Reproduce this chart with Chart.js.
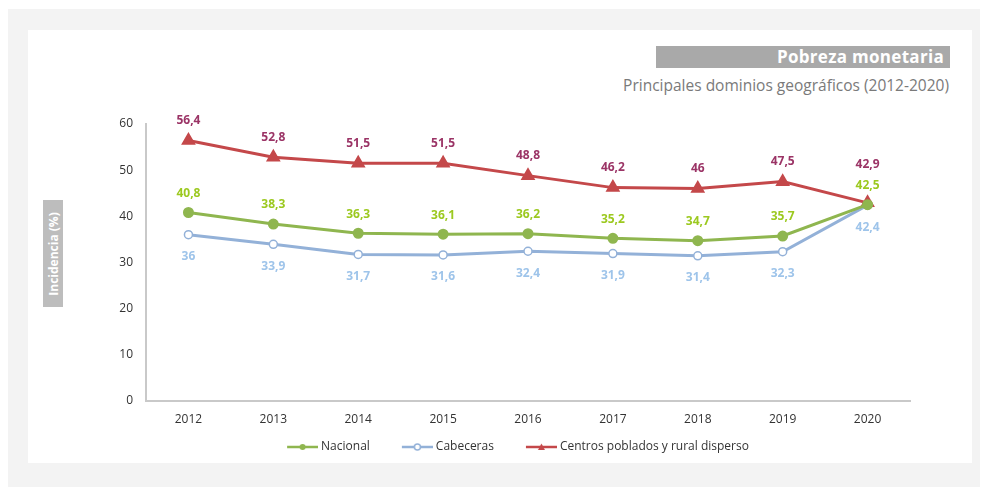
<!DOCTYPE html>
<html>
<head>
<meta charset="utf-8">
<script src="https://cdn.jsdelivr.net/npm/chart.js@4"></script>
<style>
  html, body { margin: 0; padding: 0; background: #fff; }
  body { width: 989px; height: 493px; position: relative; overflow: hidden; font-family: "Open Sans", sans-serif; }
  #frame { position: absolute; left: 8px; top: 9px; width: 972px; height: 478px; background: #f3f3f3; }
  #card { position: absolute; left: 28px; top: 30px; width: 944px; height: 433px; background: #fff; }
  #title { position: absolute; left: 656px; top: 46px; width: 294px; height: 22px; background: #a9a9a9; color: #fff;
           font-weight: bold; font-size: 17px; line-height: 22px; text-align: right; box-sizing: border-box; padding-right: 6px; letter-spacing: 0.3px; }
  #subtitle { position: absolute; right: 40px; top: 74px; font-size: 15.5px; color: #7a7a7a; white-space: nowrap; }
  #ytitle { position: absolute; left: 43px; top: 200px; width: 20px; height: 107px; background: #bdbdbd; }
  #ytitle span { position: absolute; left: 50%; top: 50%; transform: translate(-50%, -50%) rotate(-90deg);
                 color: #fff; font-size: 12px; font-weight: bold; white-space: nowrap; }
  #chart { position: absolute; left: 0; top: 0; }
</style>
</head>
<body>
<div id="frame"></div>
<div id="card"></div>
<div id="title">Pobreza monetaria</div>
<div id="subtitle">Principales dominios geográficos (2012-2020)</div>
<div id="ytitle"><span>Incidencia (%)</span></div>
<canvas id="chart" width="989" height="493"></canvas>
<script>
// datos
const years = ['2012', '2013', '2014', '2015', '2016', '2017', '2018', '2019', '2020'];
const nacional = [40.8, 38.3, 36.3, 36.1, 36.2, 35.2, 34.7, 35.7, 42.5];
const cabeceras = [36, 33.9, 31.7, 31.6, 32.4, 31.9, 31.4, 32.3, 42.4];
const rural = [56.4, 52.8, 51.5, 51.5, 48.8, 46.2, 46, 47.5, 42.9];
const yTicks = [0, 10, 20, 30, 40, 50, 60];

// marcador de leyenda: espacio + linea + punto
function legendIcon(color, style) {
    const c = document.createElement('canvas');
    c.width = 54; c.height = 10;
    const g = c.getContext('2d');
    const x0 = 23, mid = 38.5;
    g.strokeStyle = color;
    g.lineWidth = 2.5;
    g.beginPath(); g.moveTo(x0, 5); g.lineTo(54, 5); g.stroke();
    g.fillStyle = color;
    if (style === 'triangle') {
        g.beginPath(); g.moveTo(mid, 1.5); g.lineTo(mid + 3.5, 8); g.lineTo(mid - 3.5, 8); g.closePath(); g.fill();
    } else if (style === 'open') {
        g.fillStyle = '#fff'; g.lineWidth = 1.5;
        g.beginPath(); g.arc(mid, 5, 3, 0, Math.PI * 2); g.fill(); g.stroke();
    } else {
        g.beginPath(); g.arc(mid, 5, 3, 0, Math.PI * 2); g.fill();
    }
    return c;
}

// etiquetas de valores
const valueLabels = {
    id: 'valueLabels',
    afterDatasetsDraw(chart) {
        const ctx = chart.ctx;
        ctx.save();
        ctx.font = 'bold 12px "Open Sans"';
        ctx.textAlign = 'center';
        ctx.textBaseline = 'middle';
        chart.data.datasets.forEach((ds, i) => {
            const meta = chart.getDatasetMeta(i);
            meta.data.forEach((pt, j) => {
                let dy = ds.labelOffset;
                if (i === 2 && j === ds.data.length - 1) dy = -38;
                ctx.fillStyle = ds.labelColor;
                ctx.fillText(String(ds.data[j]).replace('.', ','), pt.x, pt.y + dy);
            });
        });
        ctx.restore();
    }
};

const colors = { nac: '#8fb64f', cab: '#93b1d8', rur: '#c4484a' };

new Chart(document.getElementById('chart'), {
    type: 'line',
    data: {
        labels: years,
        datasets: [
            {
                label: 'Nacional', data: nacional,
                borderColor: colors.nac, backgroundColor: colors.nac, borderWidth: 3,
                pointRadius: 4, pointBackgroundColor: colors.nac, pointBorderColor: colors.nac,
                labelColor: '#9cc920', labelOffset: -19, icon: legendIcon(colors.nac, 'circle')
            },
            {
                label: 'Cabeceras', data: cabeceras,
                borderColor: colors.cab, backgroundColor: colors.cab, borderWidth: 3,
                pointRadius: 4, pointBackgroundColor: '#fff', pointBorderColor: colors.cab, pointBorderWidth: 1.5,
                labelColor: '#9ec4ea', labelOffset: 22, icon: legendIcon(colors.cab, 'open')
            },
            {
                label: 'Centros poblados y rural disperso', data: rural,
                borderColor: colors.rur, backgroundColor: colors.rur, borderWidth: 3,
                pointStyle: 'triangle', pointRadius: 5.5, pointBackgroundColor: colors.rur, pointBorderColor: colors.rur,
                labelColor: '#9b3466', labelOffset: -20, icon: legendIcon(colors.rur, 'triangle')
            }
        ]
    },
    options: {
        responsive: false,
        animation: false,
        layout: { padding: { left: 106, right: 79, top: 124, bottom: 30 } },
        plugins: {
            legend: {
                position: 'bottom',
                labels: {
                    usePointStyle: true,
                    pointStyleWidth: 48,
                    padding: 12,
                    color: '#333',
                    font: { family: 'Open Sans', size: 12 },
                    generateLabels(chart) {
                        return chart.data.datasets.map((ds, i) => ({
                            text: ds.label, pointStyle: ds.icon, fillStyle: ds.borderColor,
                            strokeStyle: ds.borderColor, lineWidth: 0, datasetIndex: i, hidden: false,
                            fontColor: '#333'
                        }));
                    }
                }
            },
            tooltip: { enabled: false }
        },
        scales: {
            x: {
                offset: true,
                grid: { display: false, drawTicks: false },
                border: { display: true, color: '#c9c9c9', width: 2 },
                ticks: { color: '#333', padding: 12, font: { family: 'Open Sans', size: 12 } },
                afterFit(s) { s.height = s.height - 10; }
            },
            y: {
                min: 0, max: 60,
                grid: { display: false, drawTicks: false },
                border: { display: true, color: '#c9c9c9', width: 2 },
                afterBuildTicks(s) { s.ticks = yTicks.map(v => ({ value: v })); },
                ticks: { color: '#333', padding: 13, font: { family: 'Open Sans', size: 12 } },
                afterFit(s) { s.width = 40; }
            }
        }
    },
    plugins: [valueLabels]
});
</script>
</body>
</html>
